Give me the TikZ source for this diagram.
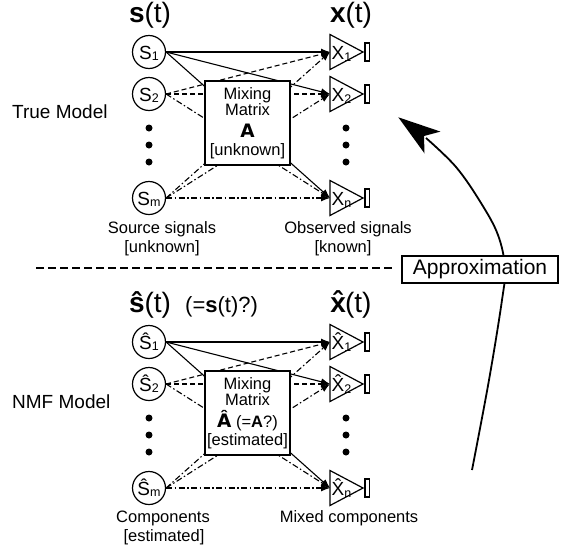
\documentclass[tikz,border=0pt]{standalone}
\usepackage{fontspec}
\setmainfont{Liberation Sans}
\newfontfamily\heavyfont{DejaVu Sans}
\usetikzlibrary{arrows.meta,calc}

% label helpers (combining circumflex U+0302 for the estimated quantities)
\newcommand\nohat[1]{#1}
\newcommand\hatted[1]{#1̂}
\newcommand\srclab[2]{{\fontsize{19}{19}\selectfont #1}\raisebox{-1.5pt}{\fontsize{12.5}{12.5}\selectfont #2}}
\newcommand\heavyA{{\heavyfont\bfseries\fontsize{18.5}{20}\selectfont A}}
\newcommand\heavyAhat{{\heavyfont\bfseries\fontsize{18.5}{20}\selectfont Â}}

\tikzset{
  src/.style={circle, draw, line width=1.2pt, minimum size=33pt, inner sep=0pt,
              text height=14pt, text depth=0pt},
  mixbox/.style={draw, line width=1.2pt, fill=white, minimum width=85pt,
                 minimum height=84pt, inner sep=0pt},
  amp/.style={line width=1.2pt, line join=miter},
  sig/.style={line width=1.1pt, -{Latex[length=9pt,width=7pt]}},
  plainsig/.style={sig},
  dashsig/.style={sig, dash pattern=on 5pt off 3pt},
  dotsig/.style={sig, dash pattern=on 6pt off 2.5pt on 1.5pt off 2.5pt},
  dotmark/.style={circle, fill, inner sep=0pt, minimum size=7pt},
  lab/.style={font=\fontsize{16.5}{18}\selectfont, inner sep=0pt},
  sidelab/.style={font=\fontsize{19}{21}\selectfont, inner sep=0pt, anchor=base west},
  titl/.style={font=\fontsize{28}{30}\selectfont, inner sep=0pt, anchor=base},
}

% one model: sources, mixing box, outputs
% #1 name prefix, #2 label accent, #3 third box line, #4 last box line
\newcommand\modelpanel[4]{%
  \node[src] (#1s1) at (149,52) {\srclab{#2{S}}{1}};
  \node[src] (#1s2) at (149,94) {\srclab{#2{S}}{2}};
  \node[src] (#1sm) at (149,198) {\srclab{#2{S}}{m}};
  \node[dotmark] (#1dl1) at (149,128) {};
  \node[dotmark] (#1dl2) at (149,145) {};
  \node[dotmark] (#1dl3) at (149,162) {};
  \node[dotmark] (#1dr1) at (346,128) {};
  \node[dotmark] (#1dr2) at (346,145) {};
  \node[dotmark] (#1dr3) at (346,162) {};
  \coordinate (#1x1) at (330,52);
  \coordinate (#1x2) at (330,94);
  \coordinate (#1xn) at (330,198);
  % mixing paths
  \draw[plainsig] (#1s1.east) -- (#1x1);
  \draw[plainsig] (#1s1.east) -- (#1x2);
  \draw[plainsig] (#1s1.east) -- (#1xn);
  \draw[dashsig] (#1s2.east) -- (#1x1);
  \draw[dashsig] (#1s2.east) -- (#1x2);
  \draw[dotsig] (#1s2.east) -- (#1xn);
  \draw[dotsig] (#1sm.east) -- (#1x1);
  \draw[dotsig] (#1sm.east) -- (#1x2);
  \draw[dotsig] (#1sm.east) -- (#1xn);
  % mixing matrix
  \node[mixbox] (#1mix) at (247.5,123) {};
  \node[lab, anchor=base] (#1mixa) at (247.5,99) {Mixing};
  \node[lab, anchor=base] (#1mixb) at (247.5,115) {Matrix};
  \node[lab, anchor=base] (#1mixc) at (247.5,137) {#3};
  \node[lab, anchor=base] (#1mixd) at (247.5,155) {#4};
  % observed channels
  \foreach \n in {1,2,n}{%
    \draw[amp] (#1x\n) -- ++(0,-17.5) -- ++(33,17.5) -- ++(-33,17.5) -- cycle;
    \draw[amp] ($(#1x\n)+(35,-9)$) rectangle ++(4.5,18);
    \node[inner sep=0pt, anchor=base west] (#1xl\n) at ($(#1x\n)+(1.5,7.5)$)
      {\srclab{#2{X}}{\n}};
  }%
}

\begin{document}
\begin{tikzpicture}[x=1pt,y=-1pt]
  \useasboundingbox (0,0) rectangle (561,552);

  % approximation arrow (behind the label box)
  \coordinate (arcfrom) at (472,470);
  \coordinate (arcto) at (398.3,117.3);
  \draw[line width=1.8pt] plot[smooth, tension=0.6] coordinates
    {(arcfrom) (489,380) (502,300) (505,268) (498,235) (481,203) (456,167) (426,138)};
  \fill (arcto) -- (440.5,131.6) -- (424,136) -- (424.5,153.4) -- cycle;

  % true model
  \node[titl] (st) at (150,22) {\textbf{s}(t)};
  \node[titl] (xt) at (351,22) {\textbf{x}(t)};
  \node[sidelab] (truem) at (12,118) {True Model};
  \modelpanel{a}{\nohat}{\heavyA}{[unknown]}
  \node[lab, anchor=base] (srcl) at (162,233) {Source signals};
  \node[lab, anchor=base] (srcu) at (162,252) {[unknown]};
  \node[lab, anchor=base] (obsl) at (348,233) {Observed signals};
  \node[lab, anchor=base] (obsk) at (343,252) {[known]};

  % separator and approximation label
  \node[draw, line width=1.2pt, fill=white, minimum width=156pt, minimum height=27pt,
        inner sep=0pt, font=\fontsize{21}{24}\selectfont] (apx) at (480,269.5) {Approximation};
  \coordinate (sepstart) at (36,268);
  \draw[line width=2pt, dash pattern=on 8pt off 4pt] (sepstart) -- ([xshift=-9pt]apx.west |- sepstart);

  % NMF model
  \node[titl] (sht) at (150,312) {\textbf{ŝ}(t)};
  \node[inner sep=0pt, anchor=base west, font=\fontsize{22}{24}\selectfont] (sq)
    at (185,312) {(=\textbf{s}(t)?)};
  \node[titl] (xht) at (351,312) {\textbf{x̂}\kern-6pt(t)};
  \node[sidelab] (nmfm) at (12,408) {NMF Model};
  \begin{scope}[shift={(0,290)}]
    \modelpanel{b}{\hatted}{\heavyAhat\ (=\textbf{A}?)}{[estimated]}
  \end{scope}
  \node[lab, anchor=base] (cmpl) at (163,522) {Components};
  \node[lab, anchor=base] (cmpe) at (164,541) {[estimated]};
  \node[lab, anchor=base] (mixl) at (349,522) {Mixed components};
\end{tikzpicture}
\end{document}
